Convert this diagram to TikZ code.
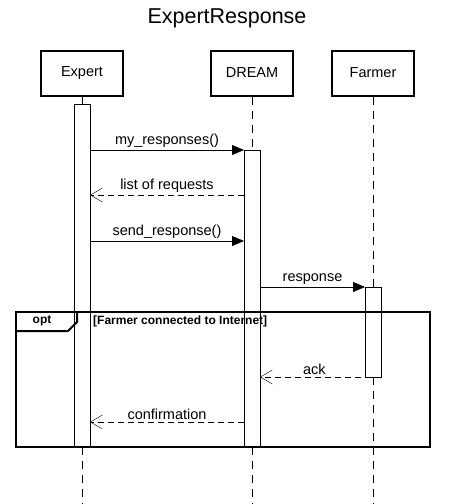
\documentclass[tikz,border=0pt]{standalone}
\usepackage{fontspec}
\setmainfont{Liberation Sans}
\usetikzlibrary{arrows.meta,positioning}

\begin{document}
\begin{tikzpicture}[x=1pt,y=1pt,
  actor/.style = {draw, line width=2pt, minimum width=82pt, minimum height=45pt, font=\fontsize{14.5}{16}\selectfont},
  act/.style = {draw, fill=white, minimum width=16pt, inner sep=0pt},
  life/.style = {dash pattern=on 8pt off 6pt},
  call/.style = {-{Triangle[length=12pt,width=10pt]}},
  reply/.style = {dashed, dash pattern=on 6pt off 4pt, -{Straight Barb[length=12pt,width=14pt]}},
  lbl/.style = {font=\fontsize{14.5}{16}\selectfont, above, inner sep=2pt}]
  \useasboundingbox (0,0) rectangle (455,-504);
  \node[font=\fontsize{21.5}{24}\selectfont] (title) at (227,-18) {ExpertResponse};
  \node[actor] (expert) at (82,-73) {Expert};
  \node[actor] (dream) at (252,-73) {DREAM};
  \node[actor] (farmer) at (373,-73) {Farmer};
  % lifelines
  \coordinate (eEnd) at (82,-504);
  \coordinate (dEnd) at (252,-504);
  \coordinate (fEnd) at (373,-504);
  \draw[life] (expert) -- (eEnd);
  \draw[life] (dream) -- (dEnd);
  \draw[life] (farmer) -- (fEnd);
  % activations
  \node[act, minimum height=342pt] (eAct) at (82,-275) {};
  \node[act, minimum height=296pt] (dAct) at (252,-298) {};
  \node[act, minimum height=90pt] (fAct) at (373,-332) {};
  % messages
  \coordinate (e1) at (90,-150);  \coordinate (d1) at (244,-150);
  \coordinate (d2) at (244,-195); \coordinate (e2) at (90,-195);
  \coordinate (e3) at (90,-241);  \coordinate (d3) at (244,-241);
  \coordinate (d4) at (260,-287); \coordinate (f4) at (365,-287);
  \coordinate (f5) at (381,-377); \coordinate (d5) at (260,-377);
  \coordinate (d6) at (244,-422); \coordinate (e6) at (90,-422);
  \draw[call] (e1) -- node[lbl] {my\_responses()} (d1);
  \draw[reply] (d2) -- node[lbl] {list of requests} (e2);
  \draw[call] (e3) -- node[lbl] {send\_response()} (d3);
  \draw[call] (d4) -- node[lbl] {response} (f4);
  \draw[reply] (f5) -- node[lbl, pos=0.55] {ack} (d5);
  \draw[reply] (d6) -- node[lbl] {confirmation} (e6);
  % opt fragment
  \draw[line width=2pt] (16,-312) rectangle (430,-447);
  \draw[line width=2pt] (16,-331) -- (68,-331) -- (77,-322) -- (77,-312);
  \node[font=\bfseries\fontsize{12}{13}\selectfont] (opt) at (42,-321) {opt};
  \node[font=\bfseries\fontsize{12}{13}\selectfont, anchor=west, inner sep=0pt] (guard) at (93,-321) {[Farmer connected to Internet]};
\end{tikzpicture}
\end{document}
